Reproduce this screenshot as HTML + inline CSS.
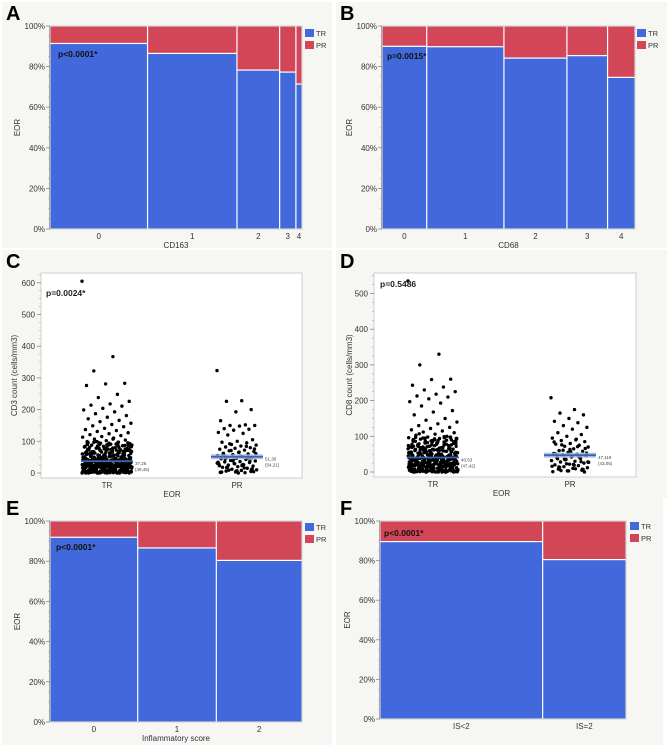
<!DOCTYPE html>
<html><head><meta charset="utf-8"><style>
html,body{margin:0;padding:0;background:#fff;}
svg{display:block;font-family:"Liberation Sans",Arial,sans-serif;}
</style></head><body>
<svg id="fig" width="669" height="747" viewBox="0 0 669 747"></svg>
<script>
// ---- data ----
const catsA = ["0","1","2","3","4"];
const countsA = [96, 88, 42, 16, 6];
const trA = [0.914, 0.865, 0.783, 0.773, 0.714];
const catsB = ["0","1","2","3","4"];
const countsB = [44, 76, 62, 40, 27];
const trB = [0.90, 0.898, 0.842, 0.854, 0.747];
const catsE = ["0","1","2"];
const countsE = [87, 78, 85];
const trE = [0.919, 0.866, 0.804];
const catsF = ["IS<2","IS=2"];
const countsF = [162, 83];
const trF = [0.896, 0.805];
const pctTicks = ["0%","20%","40%","60%","80%","100%"];
const groups = ["TR","PR"];
const lowExtra = [93,86,78,71,65,59,53,47,42,38,34,30,27,24,21,18,15,12,9,6,3,1,0,2,4,7,10,13,16,19,22,25,28,31,35,39,43,48,54,61,68,76,84,91,99,95,88,81,73,66,60,55,50,45,40,36,32,29,26,23,20,17,14,11,8,5,3,1,0,1,2,3,5,8,11,14,17,20,23,26,30,34,38,43,49,56,63,70,80,90,97,89,82,74,67,61,56,51,46,41,37,33,29,25,22,19,16,13,10,7,4,2,0,0,1,2,4,6,9,12,15,18,21,24,27,31,35,40,45,51,57,64,72,79,87,94,62,44,33,26,19,14,9,5,2,1,0,3,6,11,17,24];
const trC = [605,367,322,283,281,276,248,238,226,218,214,211,204,199,193,187,181,176,171,166,162,157,153,149,146,141,137,134,131,127,124,121,118,115,113,110,107,104,102,99,97,95,93,91,88,86,84,82,80,78,77,75,73,71,70,68,66,65,63,61,60,58,57,55,54,52,51,50,48,47,46,44,43,42,41,40,39,38,37,36,35,34,33,32,31,30,29,28,27,26,25,24,23,22,21,20,19,18,17,16,15,14,13,12,11,10,9,8,7,6,5,4,3,2,1,0,92,85,74,63,58,49,45,41,38,36,33,31,29,27,25,23,21,19,17,15,13,11,9,7,5,3,2,1,88,79,67,56,52,44,39,35,32,28,24,20,16,12,8,4,2,0,96,81,72,62,53,47,43,37,34,30,26,22,18,14,10,6,3,1,98,76,69,59,54,48,42,36,31,27,23,19,15,11,7,4,2,0,94,83,71,64,57,50,46,40,35,29,25,21,17,13,9,5,3,1,89,75,66,55,48,41,37,33,28,24,20,16,12,8,6,4,2,0,107,97,87,77,68,60,52,45,38,32,26,22,18,14,10,6,3,1,64,44,33,27,21,15,10,5,2,0,71,52,39,29,22,16,11,7,3,1].concat(lowExtra);
const prC = [323,228,226,200,193,165,152,150,150,148,140,138,135,128,125,120,105,100,97,95,90,88,85,82,80,78,75,72,70,68,65,62,60,58,55,52,50,48,46,45,43,40,38,36,35,33,30,28,26,25,22,20,18,15,12,10,8,6,5,3,2,1,92,76,66,57,49,41,34,27,19,13,7,3,84,71,61,53,44,37,29,23,16,9,4,0,58,47,39,31,24,17,11,6,2];
const trD = [535,330,300,260,259,243,238,230,225,218,213,210,205,197,193,185,172,168,160,150,145,140,135,130,125,122,118,115,112,110,106,103,100,98,96,94,92,90,88,86,84,82,80,78,76,74,72,70,68,66,64,62,60,58,56,54,52,50,48,46,44,42,40,38,36,34,32,30,28,26,24,22,20,18,16,14,12,10,8,6,4,2,0,95,85,74,63,58,49,45,41,38,36,33,31,29,27,25,23,21,19,17,15,13,11,9,7,5,3,2,1,88,79,67,56,52,44,39,35,32,28,24,20,16,12,8,4,2,0,96,81,72,62,53,47,43,37,34,30,26,22,18,14,10,6,3,1,98,76,69,59,54,48,42,36,31,27,23,19,15,11,7,4,2,0,94,83,71,64,57,50,46,40,35,29,25,21,17,13,9,5,3,1,89,75,66,55,48,41,37,33,28,24,20,16,12,8,6,4,2,0,107,97,87,77,68,60,52,45,38,32,26,22,18,14,10,6,3,1,64,44,33,27,21,15,10,5,2,0].concat(lowExtra);
const prD = [208,175,165,160,150,142,138,130,125,120,110,105,100,95,90,88,85,80,78,75,72,70,65,60,58,55,52,50,48,45,42,40,38,35,32,30,28,25,22,20,18,15,12,10,8,5,3,1,92,76,66,57,49,41,34,27,19,13,7,3,84,71,61,53,44,37,29,23,16,9,4,0,63,51,43,36,28,21,14,8,3];
const medC = [37.26, 51.3];
const medLabC = [["37,26","(49,45)"],["51,30","(54,21)"]];
const medD = [40.53, 47.1];
const medLabD = [["40,53","(47,42)"],["47,119","(43,05)"]];
const ticksC = [0,100,200,300,400,500,600];
const ticksD = [0,100,200,300,400,500];

const NS = "http://www.w3.org/2000/svg";
const svg = document.getElementById("fig");
function mk(tag, attrs, parent, txt){
  const e = document.createElementNS(NS, tag);
  for (const k in attrs) e.setAttribute(k, attrs[k]);
  if (txt !== undefined) e.textContent = txt;
  (parent || svg).appendChild(e);
  return e;
}
const BLUE = "#4169db", RED = "#d24657";

function panelBg(x,y,w,h,letter,name){
  const g = mk("g",{});
  
  
  mk("rect",{x:x,y:y,width:w,height:h,fill:"#f6f6f3"},g);
  const t = mk("text",{x:x+4,y:y+18,"font-size":20,"font-weight":"bold",fill:"#000"},g,letter);
  
  
  return g;
}

function mosaic(o){
  const g = mk("g",{});
  
  
  const {x0,x1,y0,y1} = o;
  const H = y1-y0;
  const yS = v => y1 - v*H;
  mk("rect",{x:x0,y:y0,width:x1-x0,height:H,fill:"#fff",stroke:"#cfcfcf","stroke-width":1},g);
  const total = o.counts.reduce((a,b)=>a+b,0);
  let cx = x0;
  o.counts.forEach((c,i)=>{
    const w = c/total*(x1-x0);
    const ty = yS(o.tr[i]);
    const r1 = mk("rect",{x:cx+0.6,y:y0+0.6,width:Math.max(w-1.2,0.5),height:ty-y0-1.2,fill:RED},g);
    
    
    const r2 = mk("rect",{x:cx+0.6,y:ty+0.6,width:Math.max(w-1.2,0.5),height:y1-ty-1.2,fill:BLUE},g);
    
    
    const lt = mk("text",{x:cx+w/2,y:y1+10,"font-size":8,fill:"#333","text-anchor":"middle"},g,o.cats[i]);
    
    
    cx += w;
  });
  mk("line",{x1:x0-0.5,y1:y0,x2:x0-0.5,y2:y1,stroke:"#999","stroke-width":0.8},g);
  pctTicks.forEach((t,i)=>{
    const y = yS(i/5);
    mk("line",{x1:x0-4,y1:y,x2:x0,y2:y,stroke:"#888","stroke-width":0.8},g);
    const tt = mk("text",{x:x0-5,y:y+3,"font-size":8,fill:"#333","text-anchor":"end"},g,t);
    
    
  });
  for(let k=1;k<20;k++){ if(k%4===0) continue; const y=yS(k/20); mk("line",{x1:x0-2,y1:y,x2:x0,y2:y,stroke:"#aaa","stroke-width":0.6},g); }
  const yt = mk("text",{x:0,y:0,"font-size":8,fill:"#333","text-anchor":"middle",transform:`translate(${o.ytx},${(y0+y1)/2}) rotate(-90)`},g,"EOR");
  
  
  const xt = mk("text",{x:(x0+x1)/2,y:y1+19,"font-size":8,fill:"#333","text-anchor":"middle"},g,o.xtitle);
  
  
  const pv = mk("text",{x:o.px,y:o.py,"font-size":8.5,"font-weight":"bold",fill:"#111"},g,o.p);
  
  
  [["TR",BLUE],["PR",RED]].forEach((l,i)=>{
    const lg = mk("g",{},g);
    
    
    mk("rect",{x:o.lx,y:o.ly+i*12,width:9,height:8,fill:l[1]},lg);
    mk("text",{x:o.lx+11,y:o.ly+i*12+7,"font-size":7.5,fill:"#333"},lg,l[0]);
  });
}

function scatter(o){
  const g = mk("g",{});
  
  
  const {x0,x1,y0,y1,zeroY,per100} = o;
  const yS = v => zeroY - v/100*per100;
  mk("rect",{x:x0,y:y0,width:x1-x0,height:y1-y0,fill:"#fff",stroke:"#cfcfcf","stroke-width":1},g);
  o.ticks.forEach(t=>{
    const y = yS(t);
    mk("line",{x1:x0-4,y1:y,x2:x0,y2:y,stroke:"#888","stroke-width":0.8},g);
    const tt = mk("text",{x:x0-6,y:y+3,"font-size":8,fill:"#333","text-anchor":"end"},g,String(t));
    
    
    for(let k=1;k<4;k++){ const ym=yS(t+k*25); if(ym>y0) mk("line",{x1:x0-2,y1:ym,x2:x0,y2:ym,stroke:"#aaa","stroke-width":0.6},g); }
  });
  const yt = mk("text",{x:0,y:0,"font-size":8,fill:"#333","text-anchor":"middle",transform:`translate(${o.ytx},${(y0+y1)/2}) rotate(-90)`},g,o.ytitle);
  
  
  [o.tr,o.pr].forEach((vals,gi)=>{
    const cx = o.centers[gi];
    const hw = o.jw[gi];
    const sg = mk("g",{},g);
    
    
    vals.forEach((v,i)=>{
      const j = ((i*0.6180339)%1) - 0.5;
      const c = mk("circle",{cx:cx + j*2*hw, cy:yS(v), r:1.7, fill:"#000"},sg);
      
      
    });
    const my = yS(o.med[gi]);
    const band = mk("rect",{x:cx-26,y:my-2.5,width:52,height:5,fill:"#9fb4e0",opacity:gi===1?0.8:0},g);
    
    
    const ml = mk("line",{x1:cx-26,y1:my,x2:cx+26,y2:my,stroke:"#3a62b8","stroke-width":1.8},g);
    
    
    const lab = mk("text",{x:cx+28,y:my+4,"font-size":4.5,fill:"#444"},g);
    
    
    mk("tspan",{x:cx+28,dy:0},lab,o.medLab[gi][0]);
    mk("tspan",{x:cx+28,dy:6},lab,o.medLab[gi][1]);
    const gl = mk("text",{x:cx,y:y1+10,"font-size":8,fill:"#333","text-anchor":"middle"},g,groups[gi]);
    
    
  });
  const xt = mk("text",{x:(o.centers[0]+o.centers[1])/2,y:y1+19,"font-size":8,fill:"#333","text-anchor":"middle"},g,"EOR");
  
  
  const pv = mk("text",{x:o.px,y:o.py,"font-size":8.5,"font-weight":"bold",fill:"#222"},g,o.p);
  
  
}

panelBg(2,2,330,246,"A","panel-a");
panelBg(336,2,331,246,"B","panel-b");
panelBg(2,250,330,248,"C","panel-c");
panelBg(336,250,331,248,"D","panel-d");
panelBg(2,497,330,248,"E","panel-e");
panelBg(336,497,327,248,"F","panel-f");

mosaic({name:"mosaic-cd163",x0:50,x1:302,y0:26,y1:229,counts:countsA,tr:trA,cats:catsA,xtitle:"CD163",p:"p<0.0001*",px:58,py:57,lx:305,ly:29,ytx:20});
mosaic({name:"mosaic-cd68",x0:382,x1:635,y0:26,y1:229,counts:countsB,tr:trB,cats:catsB,xtitle:"CD68",p:"p=0.0015*",px:387,py:59,lx:637,ly:29,ytx:352});
mosaic({name:"mosaic-inflammatory-score",x0:50,x1:302,y0:521,y1:722,counts:countsE,tr:trE,cats:catsE,xtitle:"Inflammatory score",p:"p<0.0001*",px:56,py:550,lx:305,ly:523,ytx:20});
mosaic({name:"mosaic-is",x0:380,x1:626,y0:521,y1:719,counts:countsF,tr:trF,cats:catsF,xtitle:"",p:"p<0.0001*",px:384,py:536,lx:630,ly:522,ytx:350});

scatter({name:"scatter-cd3",x0:41,x1:302,y0:273,y1:478,zeroY:473,per100:31.7,ticks:ticksC,tr:trC,pr:prC,centers:[107,237],jw:[25,20],med:medC,medLab:medLabC,ytitle:"CD3 count (cells/mm3)",ytx:17,p:"p=0.0024*",px:46,py:296});
scatter({name:"scatter-cd8",x0:374,x1:636,y0:273,y1:477,zeroY:472,per100:35.7,ticks:ticksD,tr:trD,pr:prD,centers:[433,570],jw:[25,19],med:medD,medLab:medLabD,ytitle:"CD8 count (cells/mm3)",ytx:352,p:"p=0.5486",px:380,py:287});
</script>
</body></html>
